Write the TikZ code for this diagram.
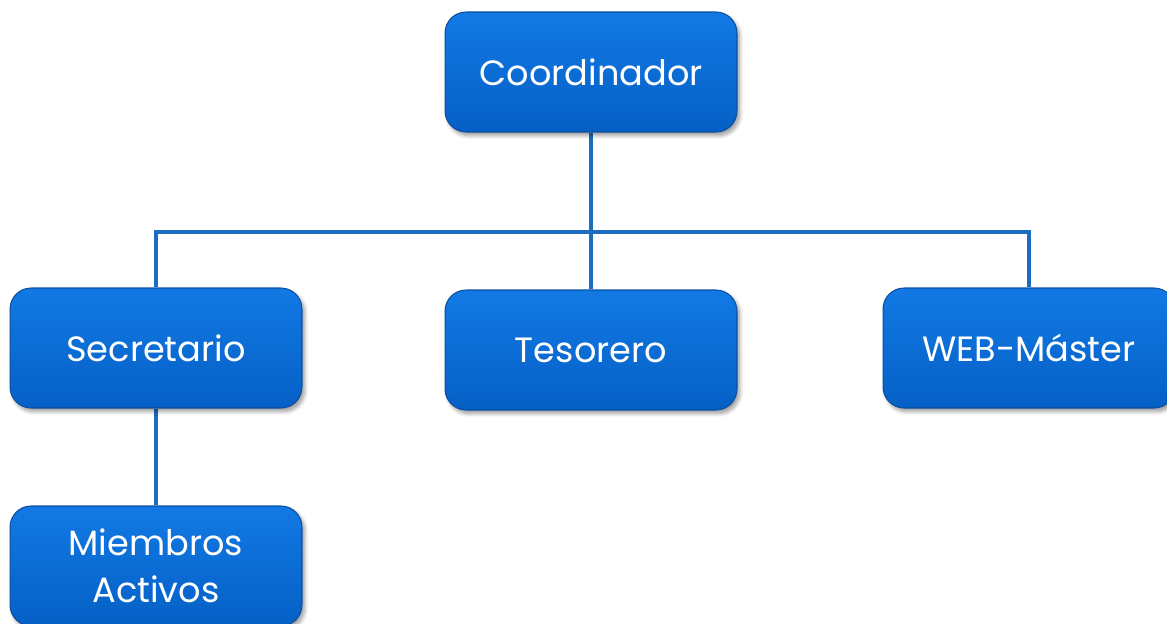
\documentclass[tikz,border=0pt]{standalone}
\usepackage{fontspec}
\setmainfont{Poppins}
\usepackage{xcolor}
\usetikzlibrary{shadows.blur,backgrounds}
\definecolor{boxtop}{HTML}{1279E4}
\definecolor{boxbot}{HTML}{0560C6}
\definecolor{boxline}{HTML}{0B4FA0}
\definecolor{linkblue}{HTML}{1C6CC2}

\begin{document}
\begin{tikzpicture}[x=0.02cm,y=-0.02cm,
  post/.style={draw=boxline,line width=.6pt,rounded corners=12,
    top color=boxtop,bottom color=boxbot,text=white,
    minimum width=5.84cm,minimum height=2.4cm,align=center,
    font=\fontsize{20}{27}\selectfont,
    blur shadow={shadow xshift=1.5pt,shadow yshift=-2pt,shadow blur steps=6}},
  link/.style={draw=linkblue,line width=2.2pt}]
\useasboundingbox (0,0) rectangle (1167,623);
\node [post] (coord) at (591,72) {Coordinador};
\node [post] (secr) at (156,348) {Secretario};
\node [post] (teso) at (591,350) {Tesorero};
\node [post] (web) at (1029,348) {WEB-Máster};
\node [post] (miem) at (156,566) {Miembros\\Activos};
\coordinate (bar) at (591,232);
\begin{scope}[on background layer]
\draw [link] (coord.south) -- (bar);
\draw [link] (secr.north) |- (bar) -| (web.north);
\draw [link] (bar) -- (teso.north);
\draw [link] (secr.south) -- (miem.north);
\end{scope}
\end{tikzpicture}
\end{document}
